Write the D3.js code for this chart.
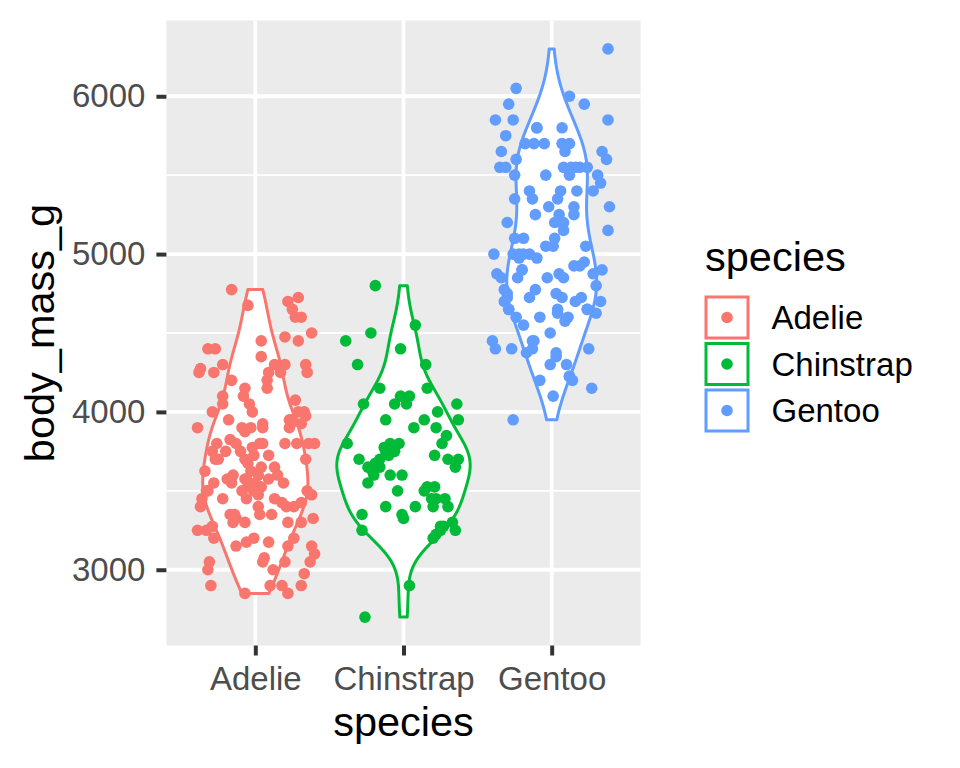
<!DOCTYPE html>
<html><head><meta charset="utf-8">
<script src="https://cdn.jsdelivr.net/npm/d3@7"></script>
<style>body{margin:0;background:#fff} svg{display:block}</style>
</head><body>
<svg id="chart" width="960" height="768"></svg>
<script>
// ---------------- data ----------------
const species = ["Adelie", "Chinstrap", "Gentoo"];
const speciesColors = ["#F8766D", "#00BA38", "#619CFF"];
const yTicks = [3000, 4000, 5000, 6000];
const yMinorTicks = [2500, 3500, 4500, 5500, 6500];

const adelieMass = [4775,4675,4700,4725,4650,4600,4600,4450,4475,4450,4500,4400,4400,4350,4300,4275,4250,4250,4300,4300,
  4300,4250,4250,4250,4200,4200,4150,4150,4100,4100,4050,4050,4000,4000,4075,4000,4000,3950,3975,3950,
  3925,3925,3900,3900,3900,3900,3900,3875,3800,3825,3800,3800,3775,3800,3800,3800,3800,3750,3750,3700,
  3700,3725,3725,3700,3625,3650,3625,3600,3600,3575,3550,3575,3575,3550,3525,3525,3500,3500,3475,3450,
  3500,3475,3450,3450,3450,3400,3400,3400,3425,3400,3350,3350,3350,3325,3300,3250,3250,3275,3200,3300,
  3300,3300,3325,3200,3200,3175,3150,3175,3150,3150,3100,3075,3050,3050,3050,3050,3000,3000,2975,2900,
  2850,2900,2900,2900,2850,3750,3675,3650,3550,3550,3950,3925,3800,3600,3350,3425,3700,3500,3575,3500];
const adelieJitter = [-0.16,-0.05,0.22,0.29,0.25,0.27,0.31,0.04,0.20,0.29,0.38,-0.32,-0.27,0.04,-0.22,-0.37,-0.38,-0.28,0.13,0.20,
  0.34,0.35,0.09,0.17,0.08,-0.16,0.08,-0.07,-0.08,-0.22,-0.22,-0.04,-0.02,-0.29,0.27,0.33,0.29,0.23,0.34,-0.18,
  0.05,0.24,-0.39,0.23,-0.09,-0.03,0.05,-0.07,-0.26,-0.17,-0.13,0.03,-0.02,0.20,0.28,0.36,0.40,-0.29,-0.20,-0.25,
  -0.07,-0.01,0.09,0.34,-0.34,0.13,-0.03,0.02,-0.15,-0.06,-0.28,-0.19,0.09,0.19,-0.05,0.04,-0.33,0.35,0.38,-0.36,
  -0.09,0.02,-0.22,-0.06,0.13,-0.37,0.21,0.26,0.31,0.02,-0.17,0.03,0.11,-0.13,-0.07,-0.39,-0.33,-0.29,-0.28,-0.15,
  0.22,0.31,0.39,0.26,-0.01,-0.06,-0.13,0.09,0.22,0.38,0.40,0.06,0.05,0.20,0.37,-0.31,-0.32,0.12,0.33,-0.30,
  -0.07,0.10,0.18,0.31,0.22,-0.10,-0.05,0.04,-0.16,0.00,0.25,0.31,0.05,0.15,-0.14,0.18,-0.27,-0.32,-0.07,-0.01];

const chinstrapMass = [4800,4550,4500,4450,4400,4300,4300,4150,4150,4100,4100,4050,4050,4050,4050,4000,3950,3950,3950,3900,
  3900,3850,3800,3800,3775,3800,3800,3725,3725,3700,3675,3700,3700,3650,3650,3650,3600,3600,3600,3550,
  3500,3525,3525,3500,3450,3450,3400,3400,3400,3400,3350,3325,3350,3250,3275,3300,3250,3250,3200,3225,
  2900,2700,3750,3450,3625,3750,3275,3700];
const chinstrapJitter = [-0.19,0.08,-0.22,-0.39,-0.02,-0.31,0.15,-0.16,0.16,-0.02,0.04,-0.06,0.02,-0.27,0.36,0.23,-0.12,0.14,0.37,0.07,
  0.22,0.29,-0.38,0.26,-0.13,-0.09,-0.03,-0.10,0.21,-0.30,-0.19,0.30,0.37,-0.24,-0.16,0.35,-0.20,-0.09,-0.01,-0.24,
  -0.04,0.16,0.21,0.14,0.22,0.28,-0.12,0.08,0.20,0.30,-0.01,0.00,-0.28,-0.28,0.27,0.33,0.35,0.25,0.20,0.22,
  0.04,-0.26,-0.12,0.19,-0.21,-0.06,0.25,-0.16];

const gentooMass = [6300,6050,6000,5950,5950,5850,5850,5850,5800,5800,5750,5700,5700,5700,5700,5700,5650,5650,5650,5600,
  5600,5550,5550,5550,5550,5550,5550,5500,5500,5500,5500,5450,5400,5400,5350,5400,5400,5350,5350,5300,
  5300,5250,5250,5300,5250,5200,5200,5200,5150,5150,5100,5100,5100,5050,5050,5050,5000,5000,5000,5000,
  4975,4900,4875,4850,4850,4925,4950,4925,4900,4875,4850,4875,4850,4800,4775,4750,4775,4725,4750,4725,
  4700,4725,4700,4700,4650,4650,4625,4650,4625,4600,4600,4600,4575,4550,4500,4450,4400,4400,4450,4400,
  4375,4400,4350,4300,4300,4200,4225,4200,4150,4100,3950,5000,4975,4900,4725,4650,5200,5800,5550,4450,
  4650,4225,4375];
const gentooJitter = [0.38,-0.24,0.12,0.22,-0.29,-0.38,-0.26,0.38,-0.10,0.07,-0.31,-0.18,-0.12,-0.05,0.07,0.12,0.09,-0.34,0.34,0.37,
  -0.24,-0.35,-0.31,0.08,0.13,0.19,0.24,-0.25,-0.04,0.12,0.31,0.33,0.28,-0.15,-0.13,0.17,0.06,0.04,-0.25,0.39,
  -0.02,-0.11,0.05,0.15,0.15,0.02,0.06,-0.30,0.08,0.38,-0.25,-0.19,0.02,-0.04,0.01,0.23,-0.39,-0.26,-0.22,-0.15,
  -0.10,-0.20,-0.37,-0.34,-0.23,0.15,0.22,0.19,0.34,0.28,-0.03,0.05,0.08,0.30,-0.32,-0.30,-0.11,-0.15,0.03,0.07,
  0.16,0.20,0.33,-0.32,-0.29,0.04,0.04,0.24,0.30,-0.24,-0.08,0.11,0.09,-0.19,-0.01,-0.40,-0.38,-0.27,-0.12,-0.13,
  -0.17,0.25,0.03,-0.01,0.10,-0.08,0.12,0.14,0.27,0.01,-0.26,-0.19,-0.22,-0.20,-0.30,0.24,0.08,-0.10,0.16,-0.13,
  -0.29,0.12,0.03];

// ---------------- layout ----------------
const panel = {left: 166.4, right: 640.6, top: 20.5, bottom: 645.5};
const FONT = "'Liberation Sans', Arial, Helvetica, sans-serif";
const groups = [
  {name: species[0], mass: adelieMass, jitter: adelieJitter, color: speciesColors[0]},
  {name: species[1], mass: chinstrapMass, jitter: chinstrapJitter, color: speciesColors[1]},
  {name: species[2], mass: gentooMass, jitter: gentooJitter, color: speciesColors[2]}
];

const allMass = groups.flatMap(g => g.mass);
const yLo = d3.min(allMass), yHi = d3.max(allMass), yPad = (yHi - yLo) * 0.05;
const y = d3.scaleLinear().domain([yLo - yPad, yHi + yPad]).range([panel.bottom, panel.top]);
const x = d3.scalePoint().domain(species).range([panel.left, panel.right]).padding(0.6);
const step = x.step();

// ---------------- violin density (gaussian KDE, bw.nrd0, trimmed) ----------------
function bwNrd0(v) {
  const s = v.slice().sort(d3.ascending);
  const sd = d3.deviation(s);
  const iqr = d3.quantileSorted(s, 0.75) - d3.quantileSorted(s, 0.25);
  let lo = Math.min(sd, iqr / 1.34);
  if (!(lo > 0)) lo = sd || 1;
  return 0.9 * lo * Math.pow(s.length, -0.2);
}
groups.forEach(g => {
  const bw = bwNrd0(g.mass);
  const mn = d3.min(g.mass), mx = d3.max(g.mass);
  const n = g.mass.length;
  g.dens = d3.range(512).map(i => {
    const t = mn + (mx - mn) * i / 511;
    let s = 0;
    for (const v of g.mass) { const u = (t - v) / bw; s += Math.exp(-0.5 * u * u); }
    return {y: t, d: s / (n * bw * Math.sqrt(2 * Math.PI))};
  });
});
const maxDens = d3.max(groups, g => d3.max(g.dens, p => p.d));

const svg = d3.select("#chart");
svg.append("rect").attr("width", 960).attr("height", 768).attr("fill", "#fff");

// panel
svg.append("rect").attr("x", panel.left).attr("y", panel.top)
  .attr("width", panel.right - panel.left).attr("height", panel.bottom - panel.top)
  .attr("fill", "#EBEBEB");

const yDom = y.domain();
svg.append("g").selectAll("line")
  .data(yMinorTicks.filter(v => v >= yDom[0] && v <= yDom[1])).join("line")
  .attr("x1", panel.left).attr("x2", panel.right)
  .attr("y1", d => y(d)).attr("y2", d => y(d))
  .attr("stroke", "#fff").attr("stroke-width", 1.9);
svg.append("g").selectAll("line").data(yTicks).join("line")
  .attr("x1", panel.left).attr("x2", panel.right)
  .attr("y1", d => y(d)).attr("y2", d => y(d))
  .attr("stroke", "#fff").attr("stroke-width", 3.8);
svg.append("g").selectAll("line").data(species).join("line")
  .attr("y1", panel.top).attr("y2", panel.bottom)
  .attr("x1", d => x(d)).attr("x2", d => x(d))
  .attr("stroke", "#fff").attr("stroke-width", 3.8);

// violins
groups.forEach(g => {
  const cx = x(g.name);
  const area = d3.area()
    .y(p => y(p.y))
    .x0(p => cx - (p.d / maxDens) * 0.45 * step)
    .x1(p => cx + (p.d / maxDens) * 0.45 * step);
  svg.append("path").attr("d", area(g.dens))
    .attr("fill", "#fff").attr("stroke", g.color).attr("stroke-width", 3)
    .attr("stroke-linejoin", "round");
});

// jittered points
groups.forEach(g => {
  const cx = x(g.name);
  svg.append("g").selectAll("circle").data(g.mass.map((m, i) => ({m, j: g.jitter[i]}))).join("circle")
    .attr("cx", d => cx + d.j * step)
    .attr("cy", d => y(d.m))
    .attr("r", 5.8)
    .attr("fill", g.color);
});

// axes
const yAxis = svg.append("g").attr("transform", `translate(${panel.left},0)`)
  .call(d3.axisLeft(y).tickValues(yTicks).tickSize(10).tickPadding(11).tickFormat(d3.format("d")));
const xAxis = svg.append("g").attr("transform", `translate(0,${panel.bottom})`)
  .call(d3.axisBottom(x).tickSize(10).tickPadding(11));
[yAxis, xAxis].forEach(a => {
  a.select(".domain").remove();
  a.selectAll(".tick line").attr("stroke", "#333333").attr("stroke-width", 4);
  a.selectAll(".tick text").attr("fill", "#4D4D4D").style("font-family", FONT).style("font-size", "33px");
});

// axis titles
svg.append("text").attr("x", (panel.left + panel.right) / 2).attr("y", 736)
  .attr("text-anchor", "middle").style("font-family", FONT).style("font-size", "41.5px")
  .attr("fill", "#000").text("species");
svg.append("text").attr("transform", `translate(53.5,${(panel.top + panel.bottom) / 2}) rotate(-90)`)
  .attr("text-anchor", "middle").style("font-family", FONT).style("font-size", "41.5px")
  .attr("fill", "#000").text("body_mass_g");

// legend
const legend = svg.append("g");
legend.append("text").attr("x", 705).attr("y", 270.5)
  .style("font-family", FONT).style("font-size", "41.5px").attr("fill", "#000").text("species");
const keyY = d3.scalePoint().domain(species).range([317.5, 410.5]);
species.forEach((s, i) => {
  const cy = keyY(s);
  legend.append("rect").attr("x", 706).attr("y", cy - 20.5).attr("width", 42).attr("height", 41)
    .attr("fill", "#fff").attr("stroke", speciesColors[i]).attr("stroke-width", 3);
  legend.append("circle").attr("cx", 727).attr("cy", cy).attr("r", 5.8).attr("fill", speciesColors[i]);
  legend.append("text").attr("x", 771.5).attr("y", cy + 11.8)
    .style("font-family", FONT).style("font-size", "33px").attr("fill", "#000").text(s);
});
</script>
</body></html>
